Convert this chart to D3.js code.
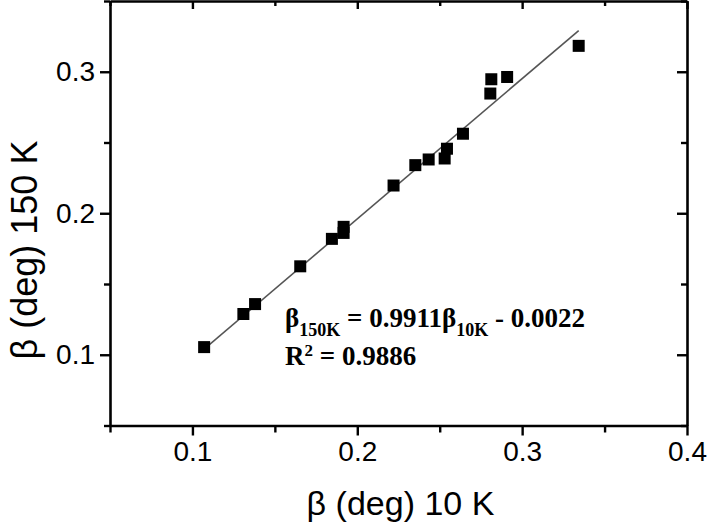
<!DOCTYPE html>
<html>
<head>
<meta charset="utf-8">
<script src="https://cdn.jsdelivr.net/npm/d3@7"></script>
<style>
  html, body { margin: 0; padding: 0; background: #fff; }
  svg { display: block; }
</style>
</head>
<body>
<svg id="chart" width="708" height="525"></svg>
<script>
// ---- data ----
const beta10K  = [0.1071, 0.1309, 0.1380, 0.1654, 0.1846, 0.1917, 0.1917, 0.2220, 0.2352, 0.2433, 0.2530, 0.2544, 0.2641, 0.2807, 0.2813, 0.2909, 0.3343];
const beta150K = [0.1054, 0.1288, 0.1358, 0.1625, 0.1819, 0.1904, 0.1861, 0.2196, 0.2340, 0.2380, 0.2387, 0.2456, 0.2562, 0.2846, 0.2947, 0.2963, 0.3183];
const fitSlope = 0.9911;
const fitIntercept = -0.0022;
const xTickLabels = [0.1, 0.2, 0.3, 0.4];
const yTickLabels = [0.1, 0.2, 0.3];
const xMinorTicks = [0.05, 0.15, 0.25, 0.35];
const yMinorTicks = [0.05, 0.15, 0.25, 0.35];
const xTitle = "β (deg) 10 K";
const yTitle = "β (deg) 150 K";

// ---- layout ----
const L = 110, R = 687, T = 1, B = 425.5;
const svg = d3.select("#chart");
const x = d3.scaleLinear().domain([0.05, 0.4]).range([L, R]);
const y = d3.scaleLinear().domain([0.05, 0.35]).range([B, T]);
const fmt = d3.format(".1f");

function styleAxis(g) {
  g.selectAll("path.domain").attr("stroke", "#000").attr("stroke-width", 2.6);
  g.selectAll(".tick line").attr("stroke", "#000").attr("stroke-width", 2.4);
}

// bottom axis (major labeled, outward)
const gB = svg.append("g").attr("transform", `translate(0,${B})`);
gB.call(d3.axisBottom(x).tickValues(xTickLabels).tickFormat(fmt).tickSize(10).tickSizeOuter(0).tickPadding(6));
gB.append("g").call(d3.axisBottom(x).tickValues(xMinorTicks).tickFormat("").tickSize(7).tickSizeOuter(0)).select("path.domain").remove();
styleAxis(gB);
gB.selectAll("text").attr("font-family", "'Liberation Sans', Arial, sans-serif").attr("font-size", 28).attr("fill", "#000");

// left axis
const gL = svg.append("g").attr("transform", `translate(${L},0)`);
gL.call(d3.axisLeft(y).tickValues(yTickLabels).tickFormat(fmt).tickSize(10).tickSizeOuter(0).tickPadding(5));
gL.append("g").call(d3.axisLeft(y).tickValues(yMinorTicks).tickFormat("").tickSize(6).tickSizeOuter(0)).select("path.domain").remove();
styleAxis(gL);
gL.selectAll("text").attr("font-family", "'Liberation Sans', Arial, sans-serif").attr("font-size", 28).attr("fill", "#000");

// top axis (inward ticks, no labels)
const gT = svg.append("g").attr("transform", `translate(0,${T})`);
gT.call(d3.axisBottom(x).tickValues(xTickLabels).tickFormat("").tickSize(8).tickSizeOuter(0));
gT.append("g").call(d3.axisBottom(x).tickValues(xMinorTicks).tickFormat("").tickSize(5).tickSizeOuter(0)).select("path.domain").remove();
styleAxis(gT);

// right axis (inward ticks, no labels)
const gR = svg.append("g").attr("transform", `translate(${R},0)`);
gR.call(d3.axisLeft(y).tickValues(yTickLabels).tickFormat("").tickSize(10).tickSizeOuter(0));
gR.append("g").call(d3.axisLeft(y).tickValues(yMinorTicks).tickFormat("").tickSize(6).tickSizeOuter(0)).select("path.domain").remove();
styleAxis(gR);

// fit line
const xExt = d3.extent(beta10K);
svg.append("line")
  .attr("x1", x(xExt[0])).attr("y1", y(fitSlope * xExt[0] + fitIntercept))
  .attr("x2", x(xExt[1])).attr("y2", y(fitSlope * xExt[1] + fitIntercept))
  .attr("stroke", "#555").attr("stroke-width", 1.6);

// points
const S = 12;
svg.append("g").selectAll("rect").data(beta10K.map((v, i) => [v, beta150K[i]])).join("rect")
  .attr("x", d => x(d[0]) - S / 2).attr("y", d => y(d[1]) - S / 2)
  .attr("width", S).attr("height", S).attr("fill", "#000");

// titles
svg.append("text").attr("x", (L + R) / 2 + 2).attr("y", 515).attr("text-anchor", "middle")
  .attr("font-family", "'Liberation Sans', Arial, sans-serif").attr("font-size", 34).attr("fill", "#000").text(xTitle);
svg.append("text").attr("transform", "translate(37,250) rotate(-90)").attr("text-anchor", "middle")
  .attr("font-family", "'Liberation Sans', Arial, sans-serif").attr("font-size", 36).attr("fill", "#000").text(yTitle);

// equation
const eq = svg.append("g").attr("font-family", "'Liberation Serif', 'Times New Roman', serif").attr("font-weight", "bold").attr("fill", "#000");
const t1 = eq.append("text").attr("x", 285).attr("y", 327).attr("font-size", 27);
t1.append("tspan").text("β");
t1.append("tspan").attr("font-size", 18).attr("dy", 9).text("150K");
t1.append("tspan").attr("dy", -9).text(" = 0.9911β");
t1.append("tspan").attr("font-size", 18).attr("dy", 9).text("10K");
t1.append("tspan").attr("dy", -9).text(" - 0.0022");
const t2 = eq.append("text").attr("x", 285).attr("y", 365).attr("font-size", 27);
t2.append("tspan").text("R");
t2.append("tspan").attr("font-size", 17).attr("dy", -9).text("2");
t2.append("tspan").attr("dy", 9).text(" = 0.9886");
</script>
</body>
</html>
